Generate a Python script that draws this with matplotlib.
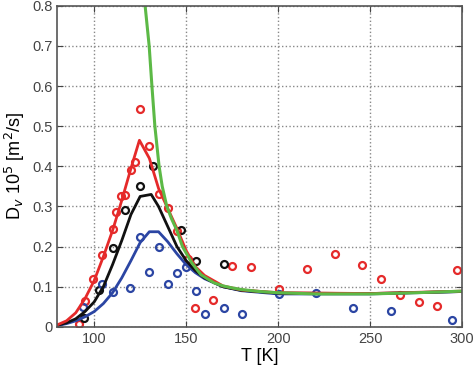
import matplotlib.pyplot as plt
import numpy as np

plt.rcParams['font.family'] = ['Liberation Sans', 'DejaVu Sans']

# colours
red = '#e52a2a'
black = '#111111'
blue = '#2b45a3'
green = '#5cb946'

# model curves (T [K], D_v*1e5)
red_T = [80, 85, 90, 95, 100, 105, 110, 115, 120, 124.6, 130, 135, 140, 145, 150, 155, 160, 170, 180, 200, 250, 300]
red_D = [0.005, 0.015, 0.035, 0.07, 0.115, 0.175, 0.24, 0.315, 0.395, 0.465, 0.42, 0.345, 0.295, 0.245, 0.19, 0.15, 0.128, 0.102, 0.092, 0.085, 0.083, 0.089]
black_T = [80, 85, 90, 95, 100, 105, 110, 115, 120, 125, 131, 135, 140, 145, 150, 155, 160, 170, 180, 200, 250, 300]
black_D = [0.004, 0.01, 0.02, 0.038, 0.062, 0.1, 0.155, 0.215, 0.28, 0.325, 0.33, 0.3, 0.25, 0.2, 0.165, 0.14, 0.122, 0.1, 0.091, 0.084, 0.083, 0.088]
blue_T = [80, 85, 90, 95, 100, 105, 110, 115, 120, 125, 130, 135, 140, 145, 150, 155, 160, 170, 180, 200, 250, 300]
blue_D = [0.003, 0.008, 0.015, 0.025, 0.038, 0.058, 0.085, 0.122, 0.165, 0.21, 0.237, 0.237, 0.212, 0.182, 0.155, 0.135, 0.12, 0.1, 0.09, 0.082, 0.082, 0.088]
green_T = [126.5, 127.7, 129.9, 131.4, 133, 135.3, 137, 139.5, 142, 145, 148, 153, 158, 165, 170, 175, 180, 190, 200, 220, 250, 275, 300]
green_D = [0.9, 0.8, 0.7, 0.6, 0.5, 0.4, 0.35, 0.3, 0.27, 0.24, 0.2, 0.16, 0.13, 0.11, 0.102, 0.097, 0.093, 0.088, 0.085, 0.082, 0.082, 0.085, 0.089]

# measured points
red_pT = [91.8, 95.1, 99.6, 104.2, 110.2, 112, 114.5, 116.8, 119.9, 122.3, 125, 130, 135.2, 140.4, 145, 151, 154.9, 164.8, 174.8,
          185.3, 200.7, 215.6, 231, 245.8, 256, 266.3, 276.3, 286.2, 297.4]
red_pD = [0.008, 0.064, 0.12, 0.179, 0.243, 0.286, 0.325, 0.329, 0.392, 0.41, 0.544, 0.45, 0.332, 0.297, 0.24, 0.17, 0.046, 0.067, 0.152,
          0.148, 0.094, 0.143, 0.182, 0.153, 0.118, 0.079, 0.063, 0.052, 0.142]
black_pT = [94.7, 102.4, 110.5, 116.8, 125, 131.9, 147.1, 155.3, 170.3]
black_pD = [0.023, 0.092, 0.196, 0.292, 0.352, 0.401, 0.242, 0.163, 0.157]
blue_pT = [94.2, 104.2, 110, 119.6, 125, 129.9, 135.2, 140.4, 144.9, 150, 155.3, 160.3, 170.3, 180.3, 200.7, 220.7, 240.6, 261.2, 294.4]
blue_pD = [0.05, 0.107, 0.0875, 0.096, 0.224, 0.1375, 0.2, 0.106, 0.133, 0.15, 0.09, 0.033, 0.046, 0.033, 0.081, 0.085, 0.048, 0.039, 0.017]

fig = plt.figure(figsize=(4.74, 3.66), dpi=100)
ax = fig.add_axes([0.121, 0.107, 0.854, 0.877])

mk = dict(linestyle='none', marker='o', markersize=5, markerfacecolor='none', markeredgewidth=1.6)
ax.plot(red_pT, red_pD, color=red, **mk)
ax.plot(black_pT, black_pD, color=black, **mk)
ax.plot(blue_pT, blue_pD, color=blue, **mk)

ax.plot(blue_T, blue_D, color=blue, lw=2)
ax.plot(black_T, black_D, color=black, lw=2)
ax.plot(red_T, red_D, color=red, lw=2)
ax.plot(green_T, green_D, color=green, lw=2.2)

ax.set_xlim(80, 300)
ax.set_ylim(0, 0.8)
ax.set_xticks([100, 150, 200, 250, 300])
ax.set_yticks(np.arange(0, 0.81, 0.1))
ax.set_yticklabels(['0', '0.1', '0.2', '0.3', '0.4', '0.5', '0.6', '0.7', '0.8'])
ax.grid(True, linestyle=':', color='#888888', linewidth=1)
ax.tick_params(direction='in', top=True, right=True, labelsize=10.5, colors='#444444', length=4)
for s in ax.spines.values():
    s.set_color('#555555')
    s.set_linewidth(1.2)

ax.set_xlabel('T [K]', fontsize=13, labelpad=2)
ax.set_ylabel(r'D$_v$ 10$^5$ [m$^2$/s]', fontsize=13, labelpad=4)

fig.savefig('out.png', dpi=100)
